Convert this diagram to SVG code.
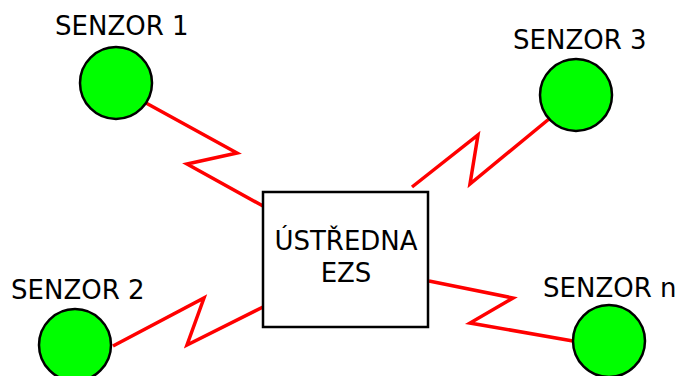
<svg xmlns="http://www.w3.org/2000/svg" width="682" height="376" viewBox="0 0 682 376">
<style>
.s{fill:#00ff00;stroke:#000;stroke-width:2.5}
.t{font-family:"DejaVu Sans",sans-serif;font-size:26px;fill:#000}
.c{fill:none;stroke:#ff0000;stroke-width:3.5;stroke-linejoin:miter}
</style>
<rect width="682" height="376" fill="#fff"/>
<g id="connectors">
<polyline class="c" points="146,103 237,153 187,164 263,206"/>
<polyline class="c" points="412,187 478,135 470,184 549,119"/>
<polyline class="c" points="113,346 204,298 187,345 263,307"/>
<polyline class="c" points="429,281 513,298 470,323 573,341"/>
</g>
<g id="ustredna">
<rect x="263" y="192" width="165" height="135" fill="#fff" stroke="#000" stroke-width="2.5"/>
<text class="t" x="346" y="250" text-anchor="middle">ÚSTŘEDNA</text>
<text class="t" x="346" y="282" text-anchor="middle">EZS</text>
</g>
<g id="senzor1">
<circle class="s" cx="116" cy="83" r="36"/>
<text class="t" x="55" y="35">SENZOR 1</text>
</g>
<g id="senzor3">
<circle class="s" cx="576" cy="95" r="36"/>
<text class="t" x="513" y="49">SENZOR 3</text>
</g>
<g id="senzor2">
<circle class="s" cx="75" cy="345" r="36"/>
<text class="t" x="11" y="299">SENZOR 2</text>
</g>
<g id="senzorn">
<circle class="s" cx="609" cy="341" r="36"/>
<text class="t" x="543" y="297">SENZOR n</text>
</g>
</svg>
